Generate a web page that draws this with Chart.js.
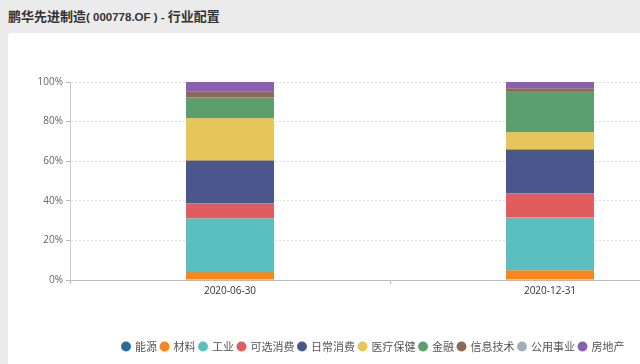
<!DOCTYPE html>
<html>
<head>
<meta charset="utf-8">
<script src="https://cdn.jsdelivr.net/npm/chart.js@4"></script>
<style>
  html, body { margin: 0; padding: 0; background: #ebebeb; overflow: hidden; width: 640px; height: 364px; }
  body { font-family: "Noto Sans CJK SC", "Noto Sans", sans-serif; position: relative; }
  .title { position: absolute; left: 8px; top: 6px; font-size: 13px; font-weight: bold; color: #333; line-height: 20px; }
  .title .code { font-family: "Liberation Sans", sans-serif; font-size: 11.5px; }
  .card { position: absolute; left: 8px; top: 33px; width: 740px; height: 340px; background: #fff; border-radius: 3px; }
  .card canvas { position: absolute; left: 0; top: 0; }
</style>
</head>
<body>
<div class="title">鹏华先进制造<span class="code">( 000778.OF ) - </span>行业配置</div>
<div class="card"><canvas id="industryChart" width="720" height="331"></canvas></div>
<script>
// report dates
const dates = ['2020-06-30', '2020-12-31'];

// industry weights (%) per date
const energy      = [0, 0];
const materials   = [4.1, 4.9];
const industrials = [27.1, 26.7];
const consDisc    = [7.5, 12.2];
const consStaples = [21.7, 22.1];
const healthcare  = [21.4, 8.9];
const financials  = [10.5, 20.7];
const infoTech    = [3.0, 1.4];
const utilities   = [0, 0];
const realEstate  = [4.8, 3.1];

const yTicks = [0, 20, 40, 60, 80, 100];

const seriesNames = ['能源', '材料', '工业', '可选消费', '日常消费', '医疗保健', '金融', '信息技术', '公用事业', '房地产'];
const seriesData = [energy, materials, industrials, consDisc, consStaples, healthcare, financials, infoTech, utilities, realEstate];
const colors = ['#2a6c9c', '#f5871f', '#5bbfc0', '#e05c5f', '#4a568c', '#e6c65a', '#5c9e6e', '#8c6a55', '#a3adb8', '#8a5fb0'];

const ctx = document.getElementById('industryChart').getContext('2d');

new Chart(ctx, {
    type: 'bar',
    data: {
        labels: dates,
        datasets: seriesNames.map((name, i) => ({
            label: name,
            data: seriesData[i],
            backgroundColor: colors[i],
            borderWidth: 0,
            barPercentage: 0.275,
            categoryPercentage: 1
        }))
    },
    options: {
        responsive: false,
        animation: false,
        layout: { padding: { top: 49, right: 18, bottom: 2, left: 29 } },
        plugins: {
            legend: {
                position: 'bottom',
                labels: {
                    usePointStyle: true,
                    pointStyle: 'circle',
                    boxWidth: 7,
                    boxHeight: 7,
                    padding: 4,
                    color: '#555',
                    font: { size: 11, family: '"Noto Sans CJK SC", sans-serif' }
                }
            },
            tooltip: { enabled: false }
        },
        scales: {
            x: {
                stacked: true,
                offset: true,
                grid: { offset: true, drawOnChartArea: false, drawTicks: true, tickLength: 4, color: '#bbb' },
                border: { color: '#bbb' },
                ticks: { padding: 1, color: '#333', font: { size: 10, family: '"Open Sans", sans-serif' } },
                afterFit: s => { s.height = 57; }
            },
            y: {
                stacked: true,
                min: 0,
                max: 100,
                afterBuildTicks: s => { s.ticks = yTicks.map(v => ({ value: v })); },
                grid: { color: '#ddd', tickLength: 4, tickColor: '#bbb', tickBorderDash: [] },
                border: { color: '#ccc', dash: [2, 2] },
                ticks: {
                    padding: 3,
                    color: '#666',
                    font: { size: 10, family: '"Open Sans", sans-serif' },
                    callback: v => v + '%'
                },
                afterFit: s => { s.width = 33; }
            }
        }
    }
});
</script>
</body>
</html>
